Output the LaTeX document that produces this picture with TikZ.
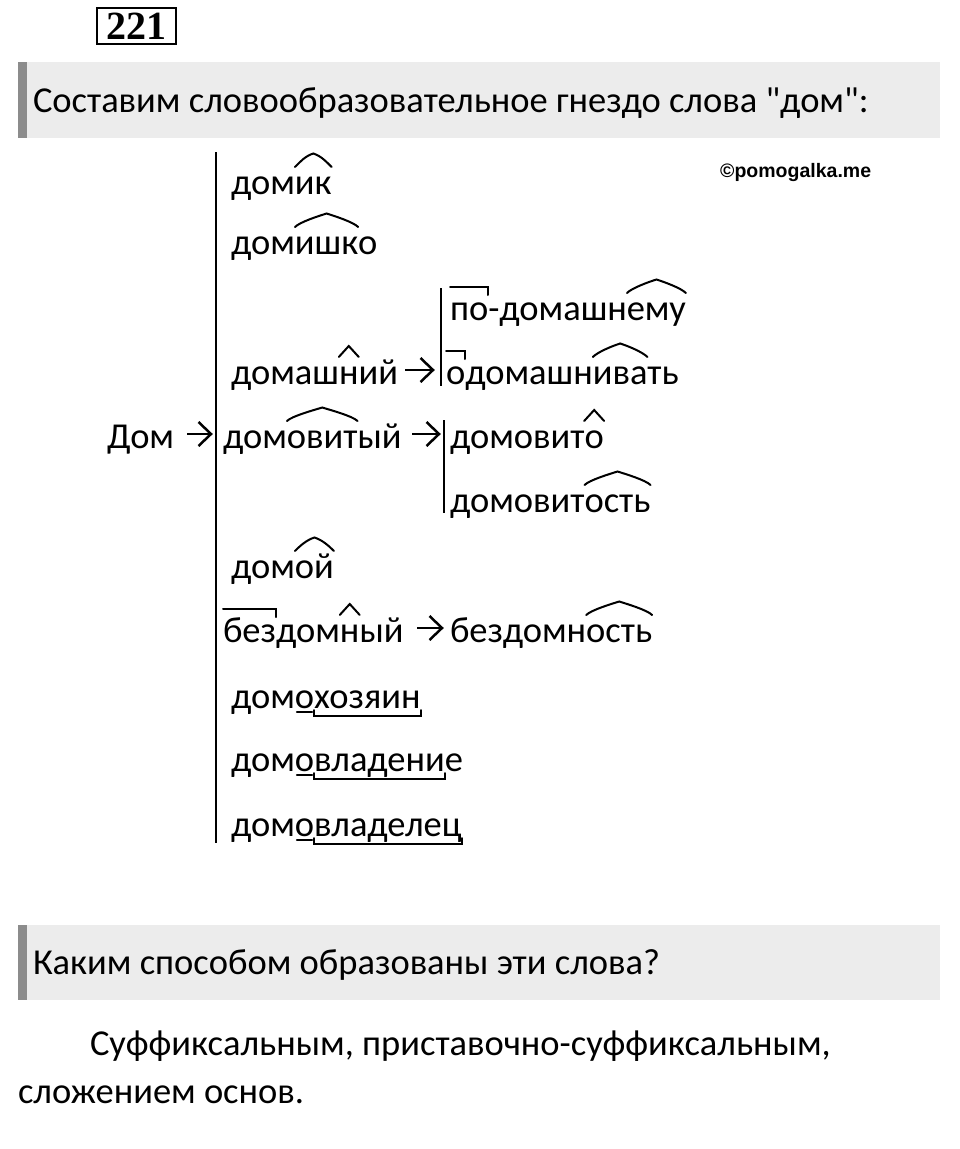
\documentclass[tikz,border=0pt]{standalone}
\usepackage{fontspec}
\setmainfont{Carlito}[Ligatures=TeXOff]
\newfontfamily\wmfont{Liberation Sans}
\newfontfamily\numfont{Liberation Serif}
\begin{document}
\begin{tikzpicture}[x=1pt,y=-1pt,
  seg/.style={inner sep=0pt, outer sep=0pt, anchor=base west, font=\fontsize{36.5}{44}\selectfont},
  txt/.style={inner sep=0pt, outer sep=0pt, anchor=base west, font=\fontsize{36.5}{44}\selectfont},
  mmark/.style={line width=2pt, line cap=round, line join=miter},
  vline/.style={line width=1.9pt},
  arrline/.style={line width=2.5pt, line cap=butt, line join=miter},
  band/.style={fill=bandgray, draw=none},
  strip/.style={fill=stripgray, draw=none}
]
\definecolor{bandgray}{HTML}{ECECEC}
\definecolor{stripgray}{HTML}{8C8C8C}
\useasboundingbox[fill=white] (0,0) rectangle (960,1149);
% morpheme marks
\newcommand{\roof}[1]{\draw[mmark] ([yshift=27pt]#1.base west) .. controls ([xshift=5pt,yshift=32pt]#1.base west) and ([xshift=-8pt,yshift=38pt]#1.base) .. ([yshift=40.5pt]#1.base) .. controls ([xshift=8pt,yshift=38pt]#1.base) and ([xshift=-5pt,yshift=32pt]#1.base east) .. ([yshift=27pt]#1.base east);}
\newcommand{\chev}[1]{\draw[mmark] ([xshift=-10pt,yshift=27pt]#1.base) -- ([yshift=38pt]#1.base) -- ([xshift=10pt,yshift=27pt]#1.base);}
\newcommand{\prefx}[1]{\draw[mmark] ([yshift=33pt]#1.base west) -- ([yshift=33pt]#1.base east) -- ([yshift=25pt]#1.base east);}
\newcommand{\rootb}[1]{\draw[mmark] ([yshift=-2pt]#1.base west) -- ([yshift=-8pt]#1.base west) -- ([yshift=-8pt]#1.base east) -- ([yshift=-2pt]#1.base east);}
\newcommand{\ulin}[1]{\draw[mmark] ([xshift=2pt,yshift=-3.5pt]#1.base west) -- ([xshift=-2pt,yshift=-3.5pt]#1.base east);}
\newcommand{\arrowto}[2]{\draw[arrline] (#1) -- ([xshift=-1pt]#2); \draw[arrline] ([xshift=-12.5pt,yshift=12pt]#2) -- (#2) -- ([xshift=-12.5pt,yshift=-12pt]#2);}

% 221 box
\draw[line width=2.6pt] (97,8) rectangle (176,44);
\node[inner sep=0pt, font=\numfont\bfseries\fontsize{40}{40}\selectfont] (num) at (136.5,26.5) {221};

% header 1
\fill[band] (18,62) rectangle (940,138);
\fill[strip] (18,62) rectangle (27,138);
\node[txt] (h1) at (33,112) {Составим словообразовательное гнездо слова "дом":};

% watermark
\node[inner sep=0pt, anchor=base west, font=\wmfont\bfseries\fontsize{19.5}{22}\selectfont] (wm) at (720,177) {©pomogalka.me};

% main vertical line
\coordinate (v1t) at (216,152);
\coordinate (v1b) at (216,843);
\draw[vline] (v1t) -- (v1b);

% Дом
\node[txt] (dom) at (107,448) {Дом};
\coordinate (a0s) at (187,434);
\coordinate (a0e) at (211,434);
\arrowto{a0s}{a0e}

% домик
\node[seg] (w1a) at (231,194) {дом};
\node[seg] (w1b) at (w1a.base east) {ик};
\roof{w1b}
% домишко
\node[seg] (w2a) at (231,254) {дом};
\node[seg] (w2b) at (w2a.base east) {ишк};
\node[seg] (w2c) at (w2b.base east) {о};
\roof{w2b}
% домашний
\node[seg] (w3a) at (231,384) {домаш};
\node[seg] (w3b) at (w3a.base east) {н};
\node[seg] (w3c) at (w3b.base east) {ий};
\chev{w3b}
\coordinate (a3s) at (405,370);
\coordinate (a3e) at (433,370);
\arrowto{a3s}{a3e}
% branch line 2
\coordinate (v2t) at (441,288);
\coordinate (v2b) at (441,386);
\draw[vline] (v2t) -- (v2b);
% по-домашнему
\node[seg] (w4a) at (450,320) {по};
\node[seg] (w4b) at (w4a.base east) {-домашн};
\node[seg] (w4c) at (w4b.base east) {ему};
\prefx{w4a}
\roof{w4c}
% одомашнивать
\node[seg] (w5a) at (446,384) {о};
\node[seg] (w5b) at (w5a.base east) {домашн};
\node[seg] (w5c) at (w5b.base east) {ива};
\node[seg] (w5d) at (w5c.base east) {ть};
\prefx{w5a}
\roof{w5c}
% домовитый
\node[seg] (w6a) at (223,448) {дом};
\node[seg] (w6b) at (w6a.base east) {овит};
\node[seg] (w6c) at (w6b.base east) {ый};
\roof{w6b}
\coordinate (a6s) at (412,434);
\coordinate (a6e) at (439,434);
\arrowto{a6s}{a6e}
% branch line 3
\coordinate (v3t) at (444,420);
\coordinate (v3b) at (444,513);
\draw[vline] (v3t) -- (v3b);
% домовито
\node[seg] (w7a) at (450,448) {домовит};
\node[seg] (w7b) at (w7a.base east) {о};
\chev{w7b}
% домовитость
\node[seg] (w8a) at (450,512) {домовит};
\node[seg] (w8b) at (w8a.base east) {ость};
\roof{w8b}
% домой
\node[seg] (w9a) at (231,578) {дом};
\node[seg] (w9b) at (w9a.base east) {ой};
\roof{w9b}
% бездомный
\node[seg] (w10a) at (223,642) {без};
\node[seg] (w10b) at (w10a.base east) {дом};
\node[seg] (w10c) at (w10b.base east) {н};
\node[seg] (w10d) at (w10c.base east) {ый};
\prefx{w10a}
\chev{w10c}
\coordinate (a10s) at (417,628);
\coordinate (a10e) at (442,628);
\arrowto{a10s}{a10e}
% бездомность
\node[seg] (w11a) at (450,642) {бездомн};
\node[seg] (w11b) at (w11a.base east) {ость};
\roof{w11b}
% домохозяин
\node[seg] (w12a) at (231,708) {дом};
\node[seg] (w12b) at (w12a.base east) {о};
\node[seg] (w12c) at (w12b.base east) {хозяин};
\ulin{w12b}
\rootb{w12c}
% домовладение
\node[seg] (w13a) at (231,771) {дом};
\node[seg] (w13b) at (w13a.base east) {о};
\node[seg] (w13c) at (w13b.base east) {владени};
\node[seg] (w13d) at (w13c.base east) {е};
\ulin{w13b}
\rootb{w13c}
% домовладелец
\node[seg] (w14a) at (231,836) {дом};
\node[seg] (w14b) at (w14a.base east) {о};
\node[seg] (w14c) at (w14b.base east) {владелец};
\ulin{w14b}
\rootb{w14c}

% header 2
\fill[band] (18,925) rectangle (940,1000);
\fill[strip] (18,925) rectangle (27,1000);
\node[txt] (h2) at (33,974) {Каким способом образованы эти слова?};

% answer
\node[txt] (p1) at (90,1055) {Суффиксальным, приставочно-суффиксальным,};
\node[txt] (p2) at (18,1103) {сложением основ.};
\end{tikzpicture}
\end{document}
